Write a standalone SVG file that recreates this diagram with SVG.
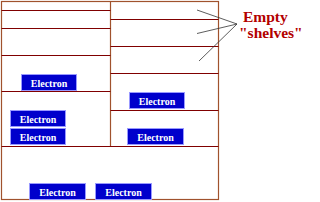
<svg xmlns="http://www.w3.org/2000/svg" width="320" height="202" viewBox="0 0 320 202">
<style>
.frame{fill:none;stroke:#a0522d;stroke-width:1.2}
.shelf{stroke:#800000;stroke-width:1.2}
.ptr{stroke:#333;stroke-width:0.8;fill:none}
.ebox{fill:#0000cc;stroke:#9999ff;stroke-width:1}
.etxt{fill:#fff;font-family:"Liberation Serif",serif;font-weight:bold;font-size:10px;text-anchor:middle}
.lbl{fill:#b30000;font-family:"Liberation Serif",serif;font-weight:bold;font-size:15.5px}
</style>
<rect width="320" height="202" fill="#fff"/>
<g id="container">
<rect class="frame" x="1.5" y="1.5" width="217" height="198"/>
<line class="frame" x1="110.5" y1="1.5" x2="110.5" y2="146.5"/>
</g>
<g id="shelves">
<line class="shelf" x1="1.5" y1="10.5" x2="110.5" y2="10.5"/>
<line class="shelf" x1="1.5" y1="28.5" x2="110.5" y2="28.5"/>
<line class="shelf" x1="1.5" y1="55.5" x2="110.5" y2="55.5"/>
<line class="shelf" x1="1.5" y1="91.5" x2="110.5" y2="91.5"/>
<line class="shelf" x1="110.5" y1="19.5" x2="218.5" y2="19.5"/>
<line class="shelf" x1="110.5" y1="46.5" x2="218.5" y2="46.5"/>
<line class="shelf" x1="110.5" y1="73.5" x2="218.5" y2="73.5"/>
<line class="shelf" x1="110.5" y1="110.5" x2="218.5" y2="110.5"/>
<line class="shelf" x1="1.5" y1="146.5" x2="218.5" y2="146.5"/>
</g>
<g id="e1"><rect class="ebox" x="21.5" y="74.5" width="55" height="16"/><text class="etxt" x="49" y="86.5">Electron</text></g>
<g id="e2"><rect class="ebox" x="129.5" y="92.5" width="55" height="16"/><text class="etxt" x="157" y="104.5">Electron</text></g>
<g id="e3"><rect class="ebox" x="10.5" y="110.5" width="55" height="16"/><text class="etxt" x="38" y="122.5">Electron</text></g>
<g id="e4"><rect class="ebox" x="10.5" y="128.5" width="55" height="16"/><text class="etxt" x="38" y="140.5">Electron</text></g>
<g id="e5"><rect class="ebox" x="127.5" y="128.5" width="56" height="16"/><text class="etxt" x="155.5" y="140.5">Electron</text></g>
<g id="e6"><rect class="ebox" x="29.5" y="183.5" width="56" height="16"/><text class="etxt" x="57.5" y="195.5">Electron</text></g>
<g id="e7"><rect class="ebox" x="95.5" y="183.5" width="56" height="16"/><text class="etxt" x="123.5" y="195.5">Electron</text></g>
<g id="connectors">
<line class="ptr" x1="197" y1="10" x2="237" y2="24"/>
<line class="ptr" x1="197" y1="33.5" x2="237" y2="24"/>
<line class="ptr" x1="199" y1="61" x2="237" y2="24"/>
</g>
<g id="label">
<text class="lbl" x="243" y="22">Empty</text>
<text class="lbl" x="239" y="38">"shelves"</text>
</g>
</svg>
